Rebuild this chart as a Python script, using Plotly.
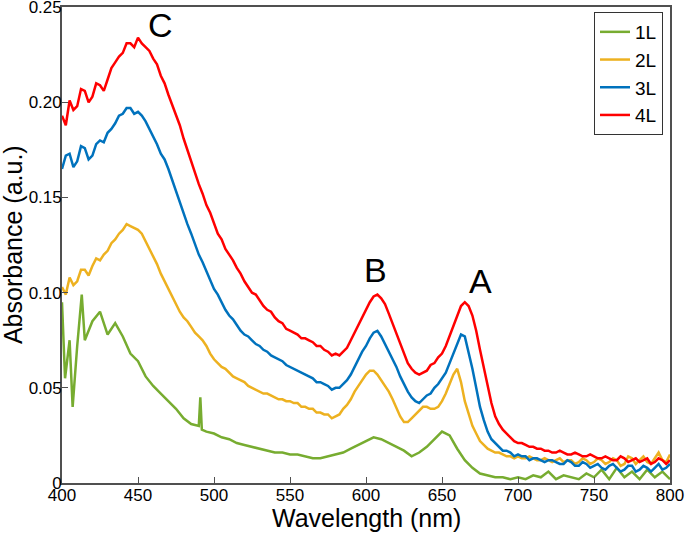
import plotly.graph_objects as go

# Wavelength grid (nm), 2.5 nm steps
wl = [400 + 2.5 * i for i in range(161)]

abs_4L = [0.193, 0.188, 0.201, 0.196, 0.198, 0.207, 0.206, 0.200, 0.203, 0.210,
          0.209, 0.206, 0.212, 0.218, 0.221, 0.224, 0.226, 0.231, 0.231, 0.229,
          0.234, 0.231, 0.229, 0.227, 0.223, 0.220, 0.214, 0.210, 0.204, 0.199,
          0.193, 0.188, 0.181, 0.175, 0.168, 0.163, 0.157, 0.152, 0.146, 0.142,
          0.137, 0.131, 0.128, 0.123, 0.120, 0.117, 0.113, 0.110, 0.106, 0.103,
          0.100, 0.099, 0.096, 0.093, 0.091, 0.090, 0.087, 0.085, 0.084, 0.081,
          0.080, 0.079, 0.078, 0.076, 0.076, 0.075, 0.074, 0.072, 0.072, 0.070,
          0.069, 0.067, 0.068, 0.067, 0.069, 0.071, 0.075, 0.079, 0.083, 0.087,
          0.091, 0.095, 0.098, 0.099, 0.097, 0.094, 0.089, 0.084, 0.078, 0.073,
          0.068, 0.063, 0.060, 0.058, 0.057, 0.058, 0.059, 0.062, 0.063, 0.066,
          0.068, 0.072, 0.077, 0.082, 0.088, 0.093, 0.095, 0.093, 0.088, 0.080,
          0.070, 0.060, 0.050, 0.042, 0.035, 0.031, 0.028, 0.026, 0.024, 0.022,
          0.021, 0.021, 0.020, 0.019, 0.019, 0.018, 0.018, 0.017, 0.017, 0.016,
          0.016, 0.017, 0.016, 0.015, 0.015, 0.016, 0.015, 0.014, 0.014, 0.015,
          0.014, 0.013, 0.013, 0.014, 0.013, 0.012, 0.012, 0.014, 0.013, 0.011,
          0.012, 0.013, 0.011, 0.012, 0.013, 0.010, 0.011, 0.013, 0.012, 0.010,
          0.012]

abs_3L = [0.165, 0.172, 0.173, 0.166, 0.169, 0.177, 0.176, 0.170, 0.172, 0.178,
          0.180, 0.179, 0.184, 0.186, 0.189, 0.193, 0.194, 0.197, 0.197, 0.194,
          0.195, 0.193, 0.190, 0.186, 0.182, 0.178, 0.173, 0.170, 0.165, 0.159,
          0.153, 0.147, 0.141, 0.136, 0.131, 0.125, 0.120, 0.116, 0.111, 0.106,
          0.102, 0.099, 0.095, 0.091, 0.088, 0.086, 0.083, 0.080, 0.078, 0.077,
          0.075, 0.073, 0.072, 0.070, 0.069, 0.067, 0.066, 0.065, 0.064, 0.062,
          0.061, 0.060, 0.059, 0.058, 0.057, 0.056, 0.055, 0.053, 0.053, 0.052,
          0.051, 0.049, 0.050, 0.050, 0.052, 0.054, 0.057, 0.061, 0.065, 0.069,
          0.072, 0.076, 0.079, 0.080, 0.077, 0.073, 0.069, 0.065, 0.061, 0.056,
          0.052, 0.048, 0.045, 0.043, 0.042, 0.044, 0.046, 0.047, 0.050, 0.052,
          0.055, 0.058, 0.063, 0.068, 0.074, 0.078, 0.077, 0.069, 0.060, 0.050,
          0.040, 0.033, 0.027, 0.023, 0.021, 0.019, 0.017, 0.017, 0.016, 0.014,
          0.015, 0.014, 0.014, 0.012, 0.013, 0.013, 0.012, 0.011, 0.012, 0.012,
          0.011, 0.010, 0.010, 0.012, 0.011, 0.009, 0.009, 0.011, 0.010, 0.008,
          0.009, 0.010, 0.008, 0.007, 0.009, 0.010, 0.008, 0.006, 0.007, 0.009,
          0.009, 0.006, 0.007, 0.009, 0.008, 0.006, 0.008, 0.010, 0.007, 0.008,
          0.010]

abs_2L = [0.103, 0.099, 0.108, 0.104, 0.106, 0.112, 0.112, 0.109, 0.114, 0.118,
          0.117, 0.120, 0.122, 0.126, 0.128, 0.131, 0.133, 0.136, 0.135, 0.134,
          0.133, 0.131, 0.127, 0.123, 0.119, 0.115, 0.110, 0.106, 0.102, 0.098,
          0.094, 0.090, 0.087, 0.085, 0.082, 0.079, 0.077, 0.075, 0.072, 0.068,
          0.065, 0.063, 0.061, 0.060, 0.058, 0.056, 0.055, 0.054, 0.053, 0.051,
          0.050, 0.049, 0.048, 0.047, 0.047, 0.046, 0.045, 0.044, 0.044, 0.043,
          0.043, 0.042, 0.042, 0.040, 0.040, 0.039, 0.039, 0.037, 0.037, 0.036,
          0.036, 0.034, 0.035, 0.036, 0.039, 0.041, 0.044, 0.048, 0.051, 0.054,
          0.057, 0.059, 0.059, 0.057, 0.054, 0.051, 0.048, 0.044, 0.039, 0.035,
          0.032, 0.032, 0.034, 0.036, 0.038, 0.040, 0.040, 0.039, 0.039, 0.040,
          0.043, 0.047, 0.052, 0.057, 0.060, 0.053, 0.043, 0.036, 0.030, 0.026,
          0.022, 0.020, 0.018, 0.017, 0.016, 0.016, 0.015, 0.014, 0.014, 0.013,
          0.014, 0.013, 0.013, 0.014, 0.013, 0.012, 0.012, 0.013, 0.012, 0.011,
          0.012, 0.013, 0.011, 0.012, 0.012, 0.010, 0.011, 0.013, 0.012, 0.010,
          0.011, 0.013, 0.012, 0.010, 0.011, 0.013, 0.012, 0.009, 0.010, 0.014,
          0.013, 0.010, 0.012, 0.014, 0.011, 0.010, 0.013, 0.016, 0.012, 0.011,
          0.015]

# 1L has its own grid with a few extra points at the sharp spikes
wl_1L = [400, 402, 405, 407, 410, 413, 415, 420, 425, 430, 435, 440, 445, 450,
         455, 460, 465, 470, 475, 480, 485, 490, 491, 492, 495, 500, 505, 510,
         515, 520, 525, 530, 535, 540, 545, 550, 555, 560, 565, 570, 575, 580,
         585, 590, 595, 600, 605, 610, 615, 620, 625, 630, 635, 640, 645, 650,
         655, 660, 665, 670, 675, 680, 685, 690, 695, 700, 705, 710, 715, 720,
         725, 730, 735, 740, 745, 750, 755, 760, 765, 770, 775, 780, 785, 790,
         795, 800]
abs_1L = [0.095, 0.055, 0.075, 0.040, 0.072, 0.099, 0.075, 0.085, 0.090, 0.078,
          0.084, 0.077, 0.068, 0.064, 0.056, 0.051, 0.047, 0.043, 0.039, 0.034,
          0.031, 0.030, 0.045, 0.028, 0.027, 0.026, 0.024, 0.023, 0.021, 0.020,
          0.019, 0.018, 0.017, 0.016, 0.016, 0.015, 0.015, 0.014, 0.013, 0.013,
          0.014, 0.015, 0.016, 0.018, 0.020, 0.022, 0.024, 0.023, 0.021, 0.019,
          0.017, 0.014, 0.016, 0.019, 0.023, 0.027, 0.025, 0.018, 0.012, 0.008,
          0.005, 0.004, 0.003, 0.003, 0.002, 0.003, 0.002, 0.004, 0.003, 0.006,
          0.002, 0.004, 0.003, 0.002, 0.005, 0.003, 0.007, 0.002, 0.008, 0.003,
          0.006, 0.002, 0.007, 0.003, 0.006, 0.002]

series = [
    ("1L", wl_1L, abs_1L, "#77AC30"),
    ("2L", wl, abs_2L, "#EDB120"),
    ("3L", wl, abs_3L, "#0072BD"),
    ("4L", wl, abs_4L, "#FF0000"),
]

peak_labels = ["C", "B", "A"]
peak_x = [464.5, 606.5, 675.5]
peak_y = [0.2405, 0.112, 0.106]

y_tickvals = [0, 0.05, 0.10, 0.15, 0.20, 0.25]
y_ticktext = ["0", "0.05", "0.10", "0.15", "0.20", "0.25"]
x_tickvals = [400, 450, 500, 550, 600, 650, 700, 750, 800]

FONT = "Liberation Sans, Arial, sans-serif"

fig = go.Figure()
for name, x, y, c in series:
    fig.add_trace(go.Scatter(x=x, y=y, mode="lines", name=name,
                             line=dict(color=c, width=2.5)))

for t, x, y in zip(peak_labels, peak_x, peak_y):
    fig.add_annotation(x=x, y=y, text=t, showarrow=False,
                       xanchor="center", yanchor="middle",
                       font=dict(family=FONT, size=34, color="black"))

# axis titles as paper annotations
fig.add_annotation(xref="paper", yref="paper", x=0.5, y=-0.0745,
                   xanchor="center", yanchor="middle",
                   text="Wavelength (nm)", showarrow=False,
                   font=dict(family=FONT, size=25, color="black"))
fig.add_annotation(xref="paper", yref="paper", x=-0.0805, y=0.5, textangle=-90,
                   xanchor="center", yanchor="middle",
                   text="Absorbance (a.u.)", showarrow=False,
                   font=dict(family=FONT, size=25, color="black"))

axis_common = dict(showline=True, linecolor="#505050", linewidth=1.7, mirror=True,
                   ticks="inside", ticklen=6, tickcolor="#505050", tickwidth=1,
                   showgrid=False, zeroline=False, automargin=False,
                   ticklabeloverflow="allow",
                   tickfont=dict(family=FONT, size=17, color="black"))

fig.update_xaxes(range=[400, 800], tickvals=x_tickvals, ticklabelstandoff=-4,
                 **axis_common)
fig.update_yaxes(range=[0, 0.2501], tickvals=y_tickvals, ticktext=y_ticktext,
                 ticklabelstandoff=-5, **axis_common)

fig.update_layout(
    width=685, height=535,
    margin=dict(l=62, r=15, t=7, b=52),
    plot_bgcolor="white", paper_bgcolor="white",
    font=dict(family=FONT, color="black"),
    legend=dict(x=0.9885, xanchor="right", y=0.9895, yanchor="top",
                bordercolor="#333333", borderwidth=1, bgcolor="white",
                font=dict(family=FONT, size=19, color="black"),
                tracegroupgap=0, itemwidth=30),
    showlegend=True,
)

fig.write_html("out.html", config={"displayModeBar": False},
               post_script="document.body.style.margin='0';")
